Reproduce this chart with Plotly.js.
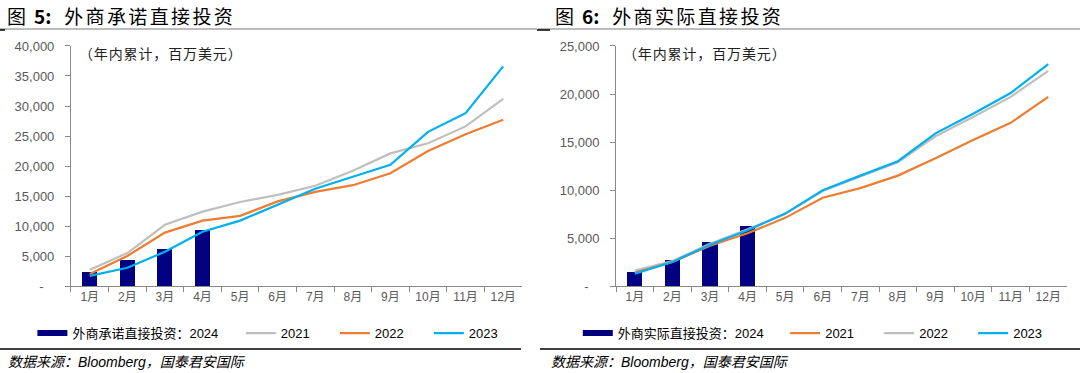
<!DOCTYPE html>
<html>
<head>
<meta charset="utf-8">
<script src="https://cdn.plot.ly/plotly-3.0.1.min.js"></script>
<style>html,body{margin:0;padding:0;background:#fff;}#chart{width:1080px;height:373px;}</style>
</head>
<body>
<div id="chart"></div>
<script>
// ---- data ----
var months = ['1月','2月','3月','4月','5月','6月','7月','8月','9月','10月','11月','12月'];
var commitMonths2024 = ['1月','2月','3月','4月'];
var commit2024 = [2300, 4300, 6200, 9300];
var commit2021 = [2700, 5500, 10200, 12400, 14000, 15200, 16700, 19200, 22100, 23800, 26600, 31200];
var commit2022 = [2000, 5000, 8900, 10900, 11700, 14100, 15700, 16800, 18800, 22500, 25300, 27700];
var commit2023 = [1700, 3050, 5700, 9050, 10900, 13500, 16200, 18200, 20200, 25700, 28800, 36600];

var actualMonths2024 = ['1月','2月','3月','4月'];
var actual2024 = [1460, 2750, 4580, 6220];
var actual2021 = [1400, 2500, 4200, 5500, 7100, 9200, 10200, 11500, 13300, 15200, 17000, 19700];
var actual2022 = [1600, 2600, 4400, 5900, 7500, 9900, 11400, 12900, 15600, 17600, 19700, 22400];
var actual2023 = [1290, 2500, 4300, 5800, 7540, 9970, 11500, 13000, 15900, 17950, 20100, 23100];

var leftTickVals = [0, 5000, 10000, 15000, 20000, 25000, 30000, 35000, 40000];
var leftTickText = ['-\u00a0\u00a0\u00a0', '5,000', '10,000', '15,000', '20,000', '25,000', '30,000', '35,000', '40,000'];
var rightTickVals = [0, 5000, 10000, 15000, 20000, 25000];
var rightTickText = ['-\u00a0\u00a0\u00a0', '5,000', '10,000', '15,000', '20,000', '25,000'];

var leftBarName = '外商承诺直接投资：2024';
var rightBarName = '外商实际直接投资：2024';
var leftTitle = '外商承诺直接投资';
var rightTitle = '外商实际直接投资';
var unitNote = '（年内累计，百万美元）';
var sourceNote = '数据来源：Bloomberg，国泰君安国际';

// ---- styles ----
var NAVY = '#000080', GRAY = '#BFBFBF', ORANGE = '#ED7D31', BLUE = '#00B0F0';
var AX = '#898989';
var FONT = 'Liberation Sans, Arial, Noto Sans CJK SC, sans-serif';
function spaced(s, sp) { return s.split('').join(sp); }

function line(x, y, name, color, xa, ya, lg) {
  return {type: 'scatter', mode: 'lines', x: x, y: y, name: name, xaxis: xa, yaxis: ya,
    legend: lg, line: {color: color, width: 2.2}, hoverinfo: 'skip'};
}
function legendOnly(name, color, lg) {
  return {type: 'scatter', mode: 'lines', x: [null], y: [null], name: name, legend: lg,
    line: {color: color, width: 6}, xaxis: 'x', yaxis: 'y'};
}

var traces = [
  {type: 'bar', x: commitMonths2024, y: commit2024, marker: {color: NAVY}, width: 0.4,
   showlegend: false, xaxis: 'x', yaxis: 'y', hoverinfo: 'skip'},
  line(months, commit2021, '2021', GRAY, 'x', 'y', 'legend2'),
  line(months, commit2022, '2022', ORANGE, 'x', 'y', 'legend2'),
  line(months, commit2023, '2023', BLUE, 'x', 'y', 'legend2'),
  legendOnly(leftBarName, NAVY, 'legend'),

  {type: 'bar', x: actualMonths2024, y: actual2024, marker: {color: NAVY}, width: 0.4,
   showlegend: false, xaxis: 'x2', yaxis: 'y2', hoverinfo: 'skip'},
  line(months, actual2022, '2022', GRAY, 'x2', 'y2', 'legend4'),
  line(months, actual2021, '2021', ORANGE, 'x2', 'y2', 'legend4'),
  line(months, actual2023, '2023', BLUE, 'x2', 'y2', 'legend4'),
  legendOnly(rightBarName, NAVY, 'legend3')
];
traces[6].legendrank = 2; traces[7].legendrank = 1; traces[8].legendrank = 3;

function xaxis(domain, anchor) {
  return {domain: domain, anchor: anchor, type: 'category', categoryorder: 'array', categoryarray: months,
    range: [-0.5, 11.5], tickson: 'boundaries', ticks: 'outside', ticklen: 5, tickcolor: AX, tickwidth: 1,
    showline: true, linecolor: AX, linewidth: 1, showgrid: false, zeroline: false,
    tickfont: {family: FONT, size: 12, color: '#595959'}, fixedrange: true};
}
function yaxis(anchor, max, vals, text) {
  return {domain: [0.2332, 0.8767], anchor: anchor, range: [0, max], tickvals: vals, ticktext: text,
    ticks: 'outside', ticklen: 5, tickcolor: AX, showline: true, linecolor: AX, linewidth: 1,
    showgrid: false, zeroline: false, ticklabelstandoff: 8,
    tickfont: {family: FONT, size: 13, color: '#595959'}, fixedrange: true};
}
function legend(x) {
  return {orientation: 'h', x: x, xanchor: 'left', y: 0.107, yanchor: 'middle', bgcolor: 'rgba(0,0,0,0)',
    borderwidth: 0, font: {family: FONT, size: 13, color: '#000'}, itemwidth: 30,
    traceorder: 'normal', tracegroupgap: 0};
}

var leg2 = legend(0.223); leg2.entrywidth = 49;
var leg4 = legend(0.727); leg4.entrywidth = 49;

var titleFont = {family: 'Noto Sans CJK SC, sans-serif', size: 19, color: '#000'};
var noteFont = {family: 'Noto Sans CJK SC, sans-serif', size: 14, color: '#222'};

var layout = {
  width: 1080, height: 373, margin: {l: 0, r: 0, t: 0, b: 0},
  paper_bgcolor: '#fff', plot_bgcolor: '#fff', showlegend: true,
  bargap: 0,
  xaxis: xaxis([0.0657, 0.4833], 'y'),
  yaxis: yaxis('x', 40000, leftTickVals, leftTickText),
  xaxis2: xaxis([0.5704, 0.9880], 'y2'),
  yaxis2: yaxis('x2', 25000, rightTickVals, rightTickText),
  legend: legend(0.030),
  legend2: leg2,
  legend3: legend(0.535),
  legend4: leg4,
  annotations: [
    {xref: 'paper', yref: 'paper', x: 0.005, y: 1 - 15/373, xanchor: 'left', yanchor: 'middle', showarrow: false,
     text: '图\u2009 <b>5:</b>\u00a0\u00a0\u00a0' + spaced(leftTitle, '\u200a\u200a'), font: titleFont},
    {xref: 'paper', yref: 'paper', x: 0.512, y: 1 - 15/373, xanchor: 'left', yanchor: 'middle', showarrow: false,
     text: '图\u2009 <b>6:</b>\u00a0\u00a0\u00a0' + spaced(rightTitle, '\u200a\u200a'), font: titleFont},
    {xref: 'paper', yref: 'paper', x: 77/1080, y: 1 - 53/373, xanchor: 'left', yanchor: 'middle', showarrow: false,
     text: spaced(unitNote, '\u200a'), font: noteFont},
    {xref: 'paper', yref: 'paper', x: 621/1080, y: 1 - 53/373, xanchor: 'left', yanchor: 'middle', showarrow: false,
     text: spaced(unitNote, '\u200a'), font: noteFont},
    {xref: 'paper', yref: 'paper', x: 6/1080, y: 1 - 362/373, xanchor: 'left', yanchor: 'middle', showarrow: false,
     text: '<i>' + sourceNote + '</i>', font: {family: FONT, size: 14, color: '#000'}},
    {xref: 'paper', yref: 'paper', x: 549/1080, y: 1 - 362/373, xanchor: 'left', yanchor: 'middle', showarrow: false,
     text: '<i>' + sourceNote + '</i>', font: {family: FONT, size: 14, color: '#000'}}
  ],
  shapes: [
    {type: 'line', xref: 'paper', yref: 'paper', x0: 0, x1: 537/1080, y0: 1 - 29/373, y1: 1 - 29/373, line: {color: '#A6A6A6', width: 1.5}},
    {type: 'line', xref: 'paper', yref: 'paper', x0: 0, x1: 5/1080, y0: 1 - 30/373, y1: 1 - 30/373, line: {color: '#000', width: 1.5}},
    {type: 'line', xref: 'paper', yref: 'paper', x0: 538/1080, x1: 1, y0: 1 - 29/373, y1: 1 - 29/373, line: {color: '#A6A6A6', width: 1.5}},
    {type: 'line', xref: 'paper', yref: 'paper', x0: 537/1080, x1: 550/1080, y0: 1 - 30/373, y1: 1 - 30/373, line: {color: '#000', width: 1.5}},
    {type: 'line', xref: 'paper', yref: 'paper', x0: 0, x1: 521/1080, y0: 1 - 349/373, y1: 1 - 349/373, line: {color: '#000', width: 1.5}},
    {type: 'line', xref: 'paper', yref: 'paper', x0: 540/1080, x1: 1, y0: 1 - 349/373, y1: 1 - 349/373, line: {color: '#000', width: 1.5}}
  ]
};

Plotly.newPlot('chart', traces, layout, {staticPlot: true, displayModeBar: false});
</script>
</body>
</html>
